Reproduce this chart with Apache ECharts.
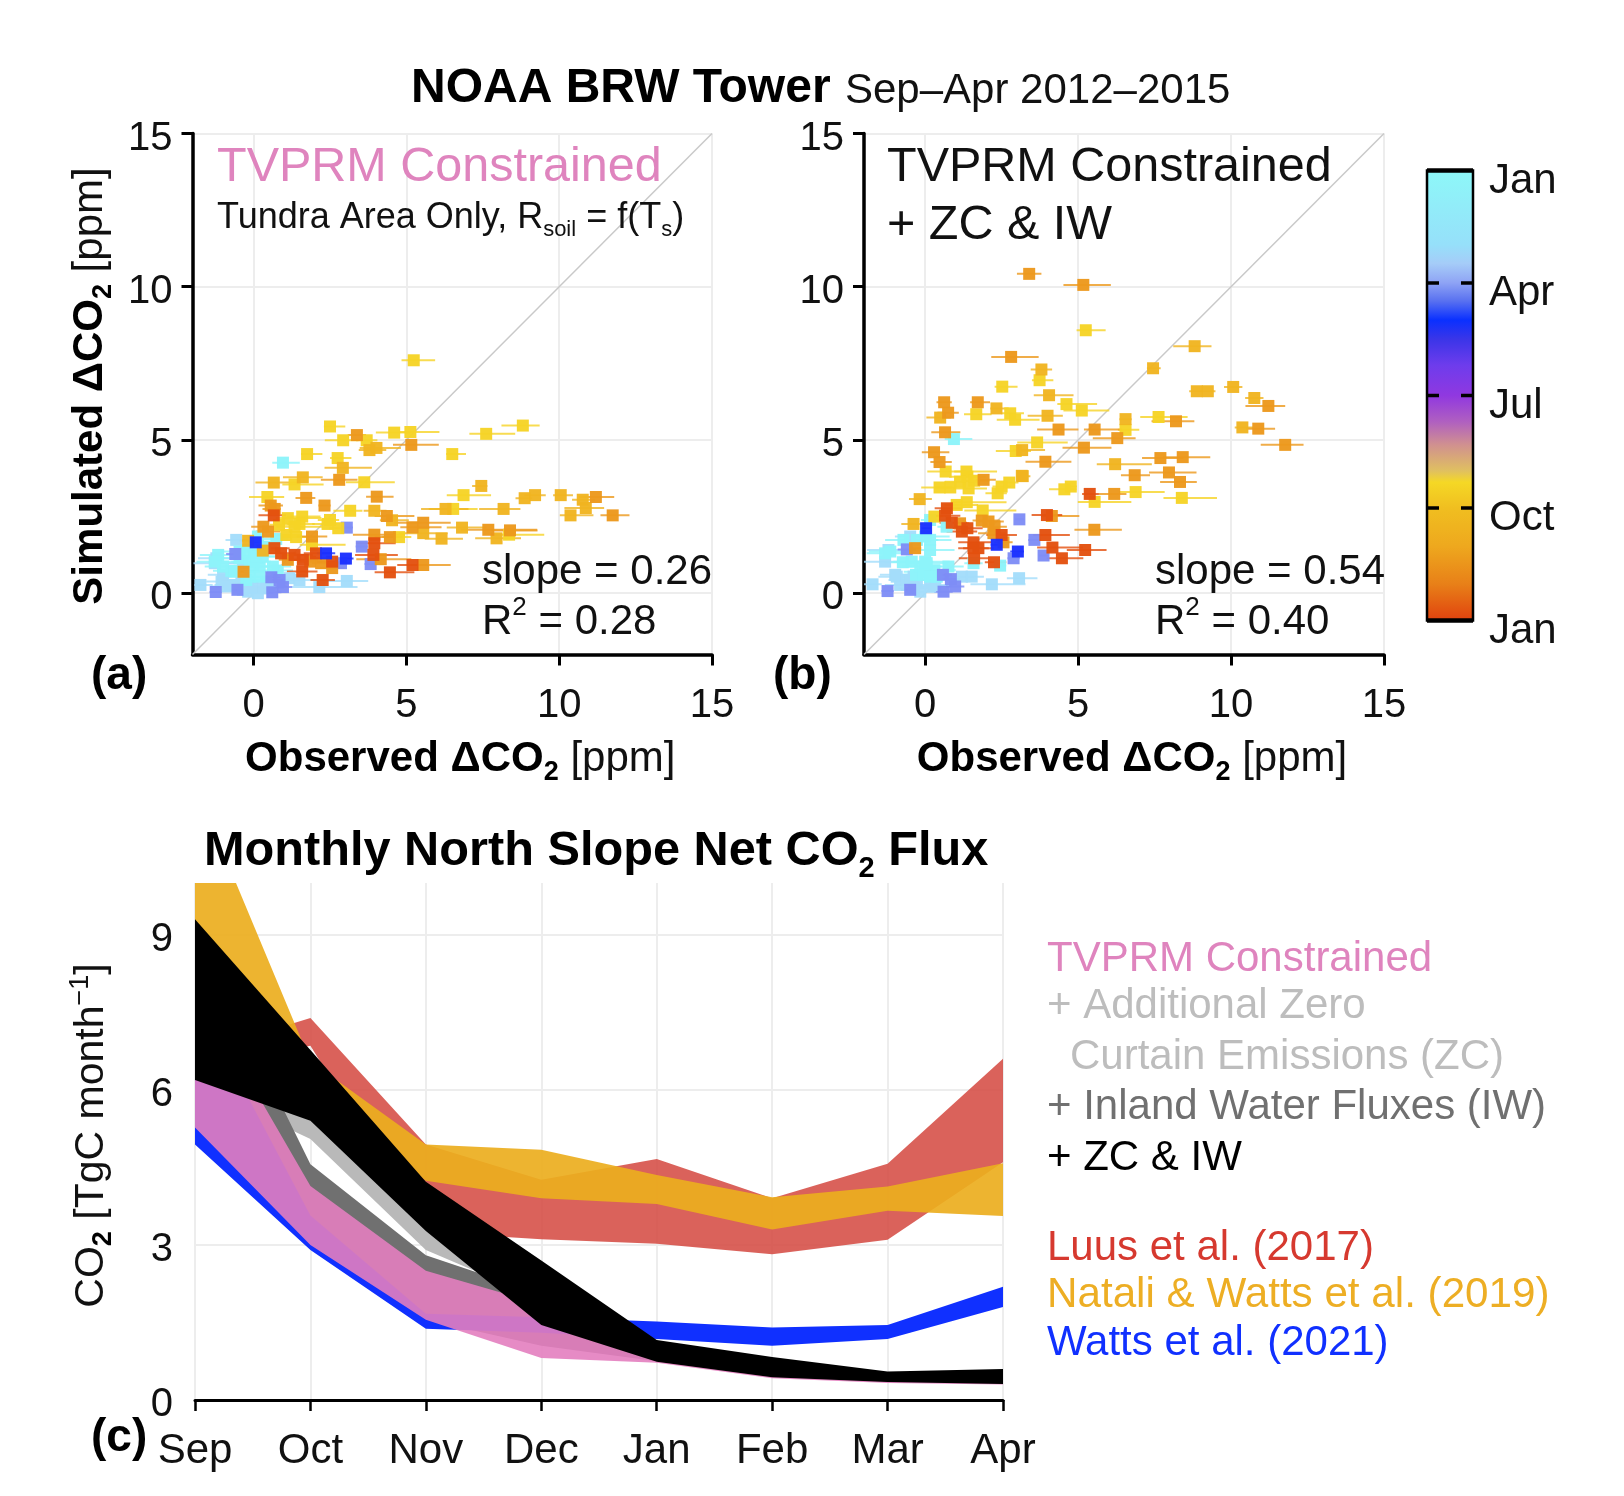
<!DOCTYPE html>
<html>
<head>
<meta charset="utf-8">
<script src="https://cdn.jsdelivr.net/npm/echarts@6/dist/echarts.min.js"></script>
<style>html,body{margin:0;background:#fff}#chart{width:1624px;height:1496px}</style>
</head>
<body>
<div id="chart"></div>
<script>
const FONT = '"Liberation Sans", Arial, sans-serif'

// scatter points: [observed, simulated, error left, error right]
const aSky = [[-0.57,1.74,.35,.35],[-1.22,1.14,.6,1],[-1.27,.98,.7,.9],[-1,.6,.5,.7],[-.78,.27,.5,.8],[-.4,.33,.5,.6],[-.18,.05,.5,.6],[.3,.16,.6,.7],[.14,0,.4,.5],[-1.74,.27,.2,.4],[1.17,.49,.5,.5],[3.05,.4,.9,.7],[2.15,.2,.9,1.25],[1.5,.43,.6,.7],[-.35,.98,.5,.7],[-1.05,.38,.5,.6],[-.89,.22,.5,.6],[-.35,.11,.5,.6],[-.08,.22,.6,.6],[.52,.22,.5,.6],[.41,.38,.5,.6]]
const aCyan = [[.96,4.26,.35,.55],[.14,1.85,.3,.5],[.74,1.77,.4,.4],[0,1.41,.5,.8],[-.46,1.36,.6,.7],[-.73,.73,.6,.8],[0,.87,.7,.8],[.2,.87,.7,.7],[-.13,.54,.7,.8],[.79,.74,.5,.5],[.3,1.2,.5,.7],[-1.16,1.25,.6,.8],[-1.27,1.03,.6,.8],[-1,.87,.6,.7],[-.46,1.14,.6,.7],[-.24,1.41,.5,.6],[-.13,1.03,.6,.7],[.09,1.2,.6,.7],[-.62,.71,.5,.7],[-.24,.43,.6,.7],[.2,.54,.6,.7],[.63,.87,.5,.6],[.36,1.52,.4,.4]]
const aPeriwinkle = [[3.05,2.14,.2,.2],[3.54,1.52,.2,.2],[3.83,.95,.2,.2],[2.86,.98,.3,.3],[.58,.52,.3,.3],[.85,.43,.3,.3],[.96,.2,.3,.3],[.61,.03,.3,.3],[-.53,.11,.3,.3],[-1.24,.04,.2,.2],[-.6,1.28,.3,.3]]
const aYellow = [[5.24,7.6,.4,.7],[2.5,5.44,.2,.5],[4.6,5.24,.6,.55],[5.13,5.26,.35,.95],[7.61,5.2,.55,.95],[8.81,5.47,.7,.55],[3.7,4.99,.35,.35],[2.93,4.99,.6,.5],[6.5,4.54,.2,.45],[1.75,4.54,.2,.5],[2.75,4.41,.25,.45],[1.34,3.55,.4,.95],[3.62,3.62,.6,1],[.45,3.14,.6,.55],[3.16,2.69,.55,.4],[6.87,3.2,.55,.9],[6.53,2.75,.8,.8],[4.76,1.83,.55,.4],[8.36,1.91,.6,1.15],[1.12,2.45,.4,1.1],[.83,2.23,.3,.5],[1.59,2.5,.5,.6],[1.5,2.26,.4,.5],[1.34,2.17,.6,.9],[1.07,1.9,.3,.5],[1.39,1.83,.5,.7],[2.42,2.26,.5,.3],[2.5,2.39,.4,.3],[2.77,2.12,.3,.3],[1.91,1.58,.4,1.1]]
const aAmber = [[3.79,4.67,.35,.55],[4.02,4.74,.55,.8],[2.92,4.09,.6,.95],[1.61,3.78,.65,.65],[.66,3.61,.6,.8],[7.45,3.5,.3,.2],[3.95,2.69,.35,.4],[4.53,2.38,.4,.55],[6.28,2.75,.8,.75],[8.18,2.75,.8,.55],[8.87,3.1,.3,.25],[9.21,3.2,.35,.35],[10.05,3.2,.25,.4],[10.77,3.05,.35,.4],[10.87,2.78,.7,.6],[10.37,2.54,.35,.75],[5.55,1.96,.8,.8],[6.82,2.14,.5,.8],[6.15,1.78,.55,.7],[7.95,1.79,.7,.8],[-.18,1.71,.3,.5],[.3,1.39,.4,.5]]
const aOrange = [[3.38,5.16,.3,.3],[5.16,4.84,.6,.9],[2.8,3.7,.6,.6],[1.72,3.11,.35,.3],[4.03,3.15,.35,.55],[2.32,2.86,.2,.2],[.56,2.86,.4,.4],[.69,2.75,.4,.2],[4.36,2.52,.4,.9],[11.2,3.14,.55,.6],[11.75,2.54,.4,.55],[5.2,2.15,.4,.95],[5.55,2.3,.95,.9],[7.68,2.07,.9,1.6],[8.39,2.05,.6,.9],[3.95,1.91,.7,1],[4.46,1.83,.5,.4],[.32,2.17,.4,.3],[.47,2.01,.4,.4],[1.91,1.85,.5,.5],[1.12,1.09,.3,.4],[1.85,1.03,.4,.4],[2.21,.98,.3,.6],[2.57,.82,.4,.4],[4.16,1.11,.8,1],[5.55,.92,.4,.9],[-.33,.7,.2,.2]]
const aRed = [[.66,2.54,.5,.4],[.68,1.47,.4,.5],[.9,1.3,.5,.5],[1.34,1.25,.4,.6],[1.61,1.09,.5,.5],[1.59,.71,.5,.5],[2.04,1.3,.4,.5],[2.57,1.03,.5,.4],[2.26,.43,.4,.4],[3.95,1.63,.6,.7],[3.92,1.25,.6,.8],[4.46,.68,.5,.8],[5.2,.92,.5,.5]]
const aBlue = [[2.37,1.3,.3,.3],[3.02,1.13,.2,.25],[.07,1.66,.2,.2]]

const bSky = [[-1.72,.29,.3,.3],[-1.2,1.41,.7,.9],[-1.31,1.03,.7,.9],[-.98,.6,.5,.7],[-.82,.27,.5,.7],[-.38,.54,.6,.8],[-.16,.05,.5,.6],[.33,.27,.6,.6],[1.2,.54,.4,.4],[1.52,.54,.4,.4],[2.18,.29,.7,1.1],[3.07,.49,.4,.6],[-.49,1.85,.5,.7],[-.93,.54,.6,.7],[-.6,.43,.6,.7],[-.27,.43,.6,.7],[.16,.22,.6,.7],[-.38,.16,.5,.6],[-.49,.43,.5,.6]]
const bCyan = [[.94,5.03,.3,.6],[2.45,.9,.3,.2],[1.58,.98,.3,.3],[.76,.87,.5,.5],[-.73,1.01,.6,.7],[0,1.03,.6,.8],[.16,1.41,.6,.8],[0,1.85,.6,.8],[.16,2.39,.3,.5],[.7,2.17,.3,.3],[-.3,.6,.6,.7],[0,.7,.7,.8],[.3,.75,.7,.7],[-1.14,1.36,.7,.8],[-1.31,1.3,.6,.8],[-.71,1.74,.6,.8],[-.27,1.74,.6,.7],[.16,1.74,.5,.7],[-.44,1.03,.6,.7],[-.16,.87,.6,.7],[.05,.98,.6,.7],[-.05,.6,.6,.7],[.16,.54,.6,.7],[.38,.54,.5,.6]]
const bPeriwinkle = [[3.08,2.41,.15,.15],[3.57,1.74,.2,.2],[3.87,1.23,.15,.15],[2.89,1.14,.2,.2],[.58,.6,.3,.3],[.84,.46,.3,.3],[.98,.22,.3,.3],[.6,.05,.3,.3],[-1.23,.07,.2,.2],[-.49,.11,.3,.3],[-.6,1.43,.3,.3]]
const bYellow = [[5.25,8.58,.3,.65],[3.74,6.95,.25,.45],[2.52,6.74,.25,.5],[1.67,5.84,.4,.5],[2.78,5.87,.3,.45],[2.94,5.66,.6,.8],[4.62,6.17,.3,1],[5.12,5.96,.6,.9],[7.63,5.75,.6,.95],[6.55,5.33,.25,.45],[3.66,4.92,.65,1],[2.96,4.64,.65,.5],[6.88,3.3,.55,.95],[8.39,3.11,.6,1.15],[5.54,2.98,.55,1.2],[.67,3.97,.6,.65],[1.35,3.97,.4,1],[1.38,3.8,.6,.6],[1.14,3.64,.5,.6],[1.6,3.67,.4,.5],[1.42,3.42,.5,.6],[.82,3.45,.5,.5],[.47,3.45,.6,.4],[2.37,3.26,.4,.3],[2.5,3.48,.3,.3],[2.75,3.61,.3,.3],[1.03,2.88,.4,.7],[1.36,2.97,.5,1.3],[1.88,2.7,.6,1.1],[.3,2.5,.3,.3],[4.55,3.39,.5,.4],[4.76,3.48,.2,.2]]
const bAmber = [[8.81,8.06,.7,.55],[7.45,7.34,.2,.25],[3.8,7.3,.35,.35],[8.88,6.59,.25,.2],[9.24,6.59,.25,.25],[10.07,6.73,.3,.3],[10.76,6.37,.3,.3],[2.33,6.03,.2,.4],[.49,5.73,.45,.35],[4,5.79,.65,.5],[4.05,6.46,.5,.8],[6.55,5.68,.2,.2],[10.37,5.41,.25,.35],[3.17,4.67,.3,.75],[6.21,4.21,.6,1.2],[3.19,3.82,.2,.25],[-.18,3.07,.35,.4],[-.38,2.26,.4,.3],[3.16,3.83,.15,.2]]
const bOrange = [[3.4,10.42,.4,.4],[5.17,10.06,.65,.9],[2.81,7.71,.65,.9],[11.22,6.11,.75,.55],[.62,6.23,.25,.25],[1.72,6.23,.25,.4],[.75,5.89,.35,.35],[8.2,5.61,.8,.6],[10.89,5.37,.4,.55],[11.77,4.84,.8,.6],[4.36,5.34,.7,.65],[5.54,5.34,.35,.9],[6.28,5.06,.8,.6],[.65,5.25,.45,.5],[5.19,4.75,.7,.9],[.29,4.6,.4,.5],[.47,4.28,.3,.4],[3.93,4.29,.65,.85],[7.69,4.41,.6,.75],[8.42,4.44,.65,.9],[6.85,3.85,.45,.5],[7.97,3.94,.65,.9],[8.33,3.63,.65,.55],[1.91,3.7,.25,.4],[6.18,3.24,.5,.4],[5.53,2.07,.65,.9],[4.14,2.52,.35,.9],[1.14,2.28,.2,.3],[1.85,2.37,.3,.6],[2.07,2.34,.3,.5],[2.27,2.17,.4,.4],[2.23,1.96,.5,.4],[2.56,1.66,.3,.3],[-.33,1.47,.2,.2]]
const bRed = [[5.38,3.24,.25,.3],[.71,2.77,.4,.5],[.65,2.53,.4,.5],[.87,2.3,.4,.5],[1.2,2.01,.5,.5],[1.38,2.12,.5,.5],[1.58,1.66,.5,.6],[1.58,1.47,.5,.5],[1.74,1.47,.5,.5],[1.6,1.14,.5,.5],[2.5,1.9,.5,.5],[2.25,1.01,.3,.4],[3.98,2.55,.5,.5],[3.93,1.9,.4,.8],[4.16,1.49,.5,1],[4.47,1.14,.5,.7],[5.23,1.41,.6,.7]]
const bBlue = [[.03,2.12,.15,.15],[2.34,1.58,.2,.2],[3.03,1.36,.25,.2]]

const scatterTicks = [0, 5, 10, 15]
const oneToOne = [-2, 15]

// monthly flux bands (TgC / month), Sep..Apr
const months = ['Sep','Oct','Nov','Dec','Jan','Feb','Mar','Apr']
const luusLow = [6.4,6.85,3.25,3.11,3.02,2.82,3.1,4.6]
const luusHigh = [6.7,7.39,4.94,4.26,4.66,3.9,4.57,6.6]
const nataliLow = [8.5,6.0,4.24,3.9,3.79,3.3,3.66,3.56]
const nataliHigh = [11.9,6.55,4.94,4.84,4.35,3.92,4.13,4.58]
const zcLow = [6.1,5.05,2.9,1.95,.9,.5,.4,.35]
const zcHigh = [8,5.45,3.35,2.6,1.1,.7,.5,.5]
const iwLow = [7,3.1,1.55,1.05,.75,.45,.35,.32]
const iwHigh = [9.1,4.56,2.8,2.05,1,.6,.45,.4]
const wattsLow = [4.94,2.9,1.38,1.3,1.18,1.05,1.18,1.8]
const wattsHigh = [7.8,3.57,1.67,1.6,1.52,1.4,1.45,2.19]
const tvprmLow = [5.27,3,1.55,.81,.72,.42,.33,.3]
const tvprmHigh = [8,4.14,2.5,1.85,.9,.5,.4,.4]
const zciwLow = [6.19,5.4,3.27,1.45,.74,.44,.35,.31]
const zciwHigh = [9.3,6.77,4.22,2.7,1.16,.83,.55,.6]
const fluxTicks = [0, 3, 6, 9]

// colour scale: month position on the bar (0 = top Jan, 12 = bottom Jan)
const cbPos = [0,2,2.5,3,3.5,4,4.5,5.2,6,6.7,7.3,8,8.3,9,10,11,12]
const cbColor = ['#8DF8F8','#96E0FA','#A5CCF8','#8FA4F5','#5870F0','#0A30FF','#3A35E8','#6E3CEC','#9038E0','#B060C0','#D09090','#E0C060','#F5D825','#F0BE20','#EEA81E','#E88018','#E0400E']
const cbLabels = ['Jan','Apr','Jul','Oct','Jan']
const cbTicks = [3, 6, 9]

const sky = '#A3DDFB', cyan = '#8DF4FA', periwinkle = '#7E8CF6', yellow = '#F6D325', amber = '#F0B420', orange = '#EC981C', red = '#E3500F', blue = '#1A30FF'

const chart = echarts.init(document.getElementById('chart'))

const subRich = {
  sp: {width: 16},
  b: {fontFamily: FONT, fontSize: 42, fontWeight: 'bold', color: '#000', lineHeight: 54},
  n: {fontFamily: FONT, fontSize: 42, color: '#111', lineHeight: 54},
  sb: {fontFamily: FONT, fontSize: 27, fontWeight: 'bold', color: '#000', verticalAlign: 'bottom', lineHeight: 24},
  s: {fontFamily: FONT, fontSize: 27, color: '#111', verticalAlign: 'bottom', lineHeight: 24}
}

const tickText = {fontFamily: FONT, fontSize: 40, color: '#111'}

function scatterAxis(gridIndex, xName, yName) {
  const tick = {length: 11, lineStyle: {color: '#000', width: 3}, customValues: scatterTicks}
  const base = {
    type: 'value', gridIndex: gridIndex, min: -2, max: 15, interval: 5,
    axisLine: {onZero: false, lineStyle: {color: '#000', width: 3.5}},
    axisTick: tick,
    splitLine: {show: true, lineStyle: {color: '#ededed', width: 2}},
    nameLocation: 'middle', nameTextStyle: {rich: subRich}
  }
  return {
    x: Object.assign({}, base, {name: xName, nameGap: 78, axisLabel: Object.assign({margin: 31, customValues: scatterTicks}, tickText)}),
    y: Object.assign({}, base, {name: yName, nameGap: 75, axisLabel: Object.assign({margin: 20, verticalAlign: 'top', lineHeight: 10, customValues: scatterTicks}, tickText)})
  }
}

function errorSeries(points, color, xi, yi, z) {
  return {
    type: 'custom', xAxisIndex: xi, yAxisIndex: yi, clip: true, z: z, silent: true,
    data: points,
    renderItem: function (params, api) {
      const x = api.value(0), y = api.value(1)
      const from = api.coord([x - api.value(2), y]), to = api.coord([x + api.value(3), y])
      return {type: 'line', shape: {x1: from[0], y1: from[1], x2: to[0], y2: to[1]}, style: {stroke: color, lineWidth: 2, opacity: .8}}
    }
  }
}

function pointSeries(points, color, xi, yi, z) {
  return {
    type: 'scatter', xAxisIndex: xi, yAxisIndex: yi, z: z, silent: true,
    symbol: 'rect', symbolSize: 12, itemStyle: {color: color, opacity: .96},
    data: points.map(function (p) { return [p[0], p[1]] })
  }
}

function panelSeries(groups, xi, yi) {
  const out = [{
    type: 'line', xAxisIndex: xi, yAxisIndex: yi, z: 1, silent: true, symbol: 'none',
    lineStyle: {color: '#c9c9c9', width: 1.5},
    data: [[oneToOne[0], oneToOne[0]], [oneToOne[1], oneToOne[1]]]
  }]
  groups.forEach(function (g, i) {
    out.push(errorSeries(g[0], g[1], xi, yi, 2))
    out.push(pointSeries(g[0], g[1], xi, yi, 3 + i))
  })
  return out
}

function bandSeries(low, high, color, opacity, z) {
  return {
    type: 'custom', xAxisIndex: 2, yAxisIndex: 2, clip: true, z: z, silent: true,
    data: months.map(function (m, i) { return [i, low[i], high[i]] }),
    renderItem: function (params, api) {
      if (params.dataIndex !== 0) return null
      const pts = []
      high.forEach(function (v, i) { pts.push(api.coord([i, v])) })
      for (let i = low.length - 1; i >= 0; i--) pts.push(api.coord([i, low[i]]))
      return {type: 'polygon', shape: {points: pts}, style: {fill: color, opacity: opacity}}
    }
  }
}

function colorbarSeries() {
  return {
    type: 'custom', xAxisIndex: 3, yAxisIndex: 3, silent: true, z: 3,
    data: [[0, 0]],
    renderItem: function (params, api) {
      const a = api.coord([0, 0]), b = api.coord([1, 12])
      const stops = cbPos.map(function (p, i) { return {offset: p / 12, color: cbColor[i]} })
      const kids = [{
        type: 'rect', shape: {x: a[0], y: a[1], width: b[0] - a[0], height: b[1] - a[1]},
        style: {fill: new echarts.graphic.LinearGradient(0, 0, 0, 1, stops), stroke: '#000', lineWidth: 2.5}
      }, {
        type: 'line', shape: {x1: a[0], y1: a[1], x2: b[0], y2: a[1]}, style: {stroke: '#000', lineWidth: 4.5}
      }, {
        type: 'line', shape: {x1: a[0], y1: b[1], x2: b[0], y2: b[1]}, style: {stroke: '#000', lineWidth: 4.5}
      }]
      cbTicks.forEach(function (t) {
        const p = api.coord([0, t])
        kids.push({type: 'line', shape: {x1: a[0], y1: p[1], x2: a[0] + 12, y2: p[1]}, style: {stroke: '#000', lineWidth: 3.5}})
        kids.push({type: 'line', shape: {x1: b[0] - 12, y1: p[1], x2: b[0], y2: p[1]}, style: {stroke: '#000', lineWidth: 3.5}})
      })
      return {type: 'group', children: kids}
    }
  }
}

function label(x, y, text, size, color, weight, rich) {
  return {
    type: 'text', x: x, y: y, z: 100, silent: true,
    style: {text: text, font: (weight || '') + ' ' + size + 'px ' + FONT, fill: color, verticalAlign: 'middle', rich: rich}
  }
}

function scriptRich(size) {
  return {
    m: {font: size + 'px ' + FONT, lineHeight: size * 1.3, fill: '#111'},
    d: {font: Math.round(size * .62) + 'px ' + FONT, verticalAlign: 'bottom', lineHeight: size * .5, fill: '#111'},
    u: {font: Math.round(size * .62) + 'px ' + FONT, verticalAlign: 'top', lineHeight: size * .62, fill: '#111'}
  }
}

const axA = scatterAxis(0, '{sp| }{b|Observed ΔCO}{sb|2}{n| [ppm]}', '{sp| }{b|Simulated ΔCO}{sb|2}{n| [ppm]}')
const axB = scatterAxis(1, '{sp| }{b|Observed ΔCO}{sb|2}{n| [ppm]}', '')

const option = {
  animation: false,
  backgroundColor: '#fff',
  grid: [
    {left: 192.5, top: 133.5, width: 519.5, height: 521},
    {left: 864, top: 133.5, width: 520, height: 521},
    {left: 195, top: 883, width: 808, height: 517},
    {left: 1427, top: 170.5, width: 46, height: 450}
  ],
  xAxis: [axA.x, axB.x, {
    type: 'category', gridIndex: 2, data: months, boundaryGap: false,
    axisLine: {lineStyle: {color: '#000', width: 3}},
    axisTick: {length: 11, alignWithLabel: true, lineStyle: {color: '#000', width: 2.5}},
    axisLabel: {fontFamily: FONT, fontSize: 42, color: '#111', margin: 30, interval: 0},
    splitLine: {show: true, lineStyle: {color: '#ededed', width: 2}}
  }, {type: 'value', gridIndex: 3, min: 0, max: 1, show: false}],
  yAxis: [axA.y, axB.y, {
    type: 'value', gridIndex: 2, min: 0, max: 10, interval: 3,
    name: '{sp| }{n|CO}{sb|2}{n| [TgC month}{u|−1}{n|]}', nameLocation: 'middle', nameGap: 78,
    nameTextStyle: {rich: Object.assign({}, subRich, {
      sp: {width: 12},
      n: {fontFamily: FONT, fontSize: 41, color: '#111', lineHeight: 50},
      u: {fontFamily: FONT, fontSize: 27, color: '#111', verticalAlign: 'top', lineHeight: 26}
    })},
    axisLine: {onZero: false, lineStyle: {color: '#000', width: 3}},
    axisTick: {length: 11, lineStyle: {color: '#000', width: 2.5}, customValues: fluxTicks},
    axisLabel: Object.assign({margin: 22, verticalAlign: 'top', lineHeight: 10, customValues: fluxTicks}, tickText),
    splitLine: {show: true, lineStyle: {color: '#ededed', width: 2}}
  }, {
    type: 'value', gridIndex: 3, min: 0, max: 12, interval: 3, inverse: true, position: 'right',
    axisLine: {show: false}, axisTick: {show: false}, splitLine: {show: false},
    axisLabel: {fontFamily: FONT, fontSize: 42, color: '#111', margin: 16, verticalAlign: 'top', lineHeight: 21, formatter: function (v) { return cbLabels[v / 3] }}
  }],
  series: [].concat(
    panelSeries([[aSky, sky], [aCyan, cyan], [aPeriwinkle, periwinkle], [aYellow, yellow], [aAmber, amber], [aOrange, orange], [aRed, red], [aBlue, blue]], 0, 0),
    panelSeries([[bSky, sky], [bCyan, cyan], [bPeriwinkle, periwinkle], [bYellow, yellow], [bAmber, amber], [bOrange, orange], [bRed, red], [bBlue, blue]], 1, 1),
    [
      bandSeries(luusLow, luusHigh, '#D4463E', .85, 2),
      bandSeries(nataliLow, nataliHigh, '#ECAE1E', .92, 3),
      bandSeries(zcLow, zcHigh, '#B9B9B9', 1, 4),
      bandSeries(iwLow, iwHigh, '#707070', 1, 5),
      bandSeries(wattsLow, wattsHigh, '#1030FF', 1, 6),
      bandSeries(tvprmLow, tvprmHigh, '#E37EBF', .9, 7),
      bandSeries(zciwLow, zciwHigh, '#000000', 1, 8),
      colorbarSeries()
    ]
  ),
  graphic: [
    label(411, 89, 'NOAA BRW Tower', 48, '#000', 'bold'),
    label(845, 91, 'Sep–Apr 2012–2015', 42, '#111'),
    label(217, 168, 'TVPRM Constrained', 48.5, '#DF84BE'),
    label(217, 218, '{m|Tundra Area Only, R}{d|soil}{m| = f(T}{d|s}{m|)}', 36, '#111', '', scriptRich(36)),
    label(482, 572, 'slope = 0.26', 42, '#111'),
    label(482, 622, '{m|R}{u|2}{m| = 0.28}', 42, '#111', '', scriptRich(42)),
    label(91, 676, '(a)', 46, '#000', 'bold'),
    label(887, 168, 'TVPRM Constrained', 48.5, '#111'),
    label(887, 226, '+ ZC & IW', 48.5, '#111'),
    label(1155, 572, 'slope = 0.54', 42, '#111'),
    label(1155, 622, '{m|R}{u|2}{m| = 0.40}', 42, '#111', '', scriptRich(42)),
    label(773, 676, '(b)', 46, '#000', 'bold'),
    label(91, 1438, '(c)', 46, '#000', 'bold'),
    label(204, 852, '{m|Monthly North Slope Net CO}{d|2}{m| Flux}', 48.7, '#000', 'bold', {
      m: {font: 'bold 48.7px ' + FONT, lineHeight: 62, fill: '#000'},
      d: {font: 'bold 29px ' + FONT, verticalAlign: 'bottom', lineHeight: 26, fill: '#000'}
    }),
    label(1047, 959, 'TVPRM Constrained', 42, '#DF84BE'),
    label(1047, 1006, '+ Additional Zero', 42, '#BDBDBD'),
    label(1070, 1057, 'Curtain Emissions (ZC)', 42, '#BDBDBD'),
    label(1047, 1107, '+ Inland Water Fluxes (IW)', 42, '#707070'),
    label(1047, 1158, '+ ZC & IW', 42, '#000'),
    label(1047, 1248, 'Luus et al. (2017)', 42, '#D6392F'),
    label(1047, 1295, 'Natali & Watts et al. (2019)', 42.2, '#EDAE24'),
    label(1047, 1343, 'Watts et al. (2021)', 42, '#1030FF')
  ]
}

chart.setOption(option)
</script>
</body>
</html>
